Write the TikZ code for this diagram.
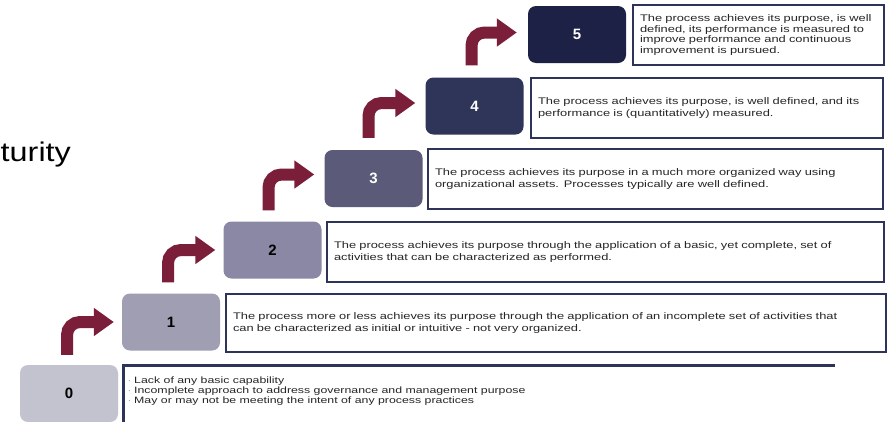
\documentclass[tikz,border=0pt]{standalone}
\usepackage{fontspec}
\setmainfont{Liberation Sans}
\newfontfamily\descfont[FakeStretch=1.34]{Liberation Sans}
\newfontfamily\titlefont[FakeStretch=1.2]{Liberation Sans}
\usetikzlibrary{arrows.meta,calc}

\definecolor{arrowred}{HTML}{7B1E3A}
\definecolor{navyframe}{HTML}{2E3359}
\definecolor{lvzero}{HTML}{C3C3CF}
\definecolor{lvone}{HTML}{A09EB3}
\definecolor{lvtwo}{HTML}{8A88A4}
\definecolor{lvthree}{HTML}{5C5A79}
\definecolor{lvfour}{HTML}{2F3559}
\definecolor{lvfive}{HTML}{1D2146}

\tikzset{
  level/.style={rounded corners=8pt, minimum width=98pt, minimum height=57pt,
    inner sep=0pt, font=\bfseries\fontsize{15}{15}\selectfont},
  darklevel/.style={level, text=white},
  lightlevel/.style={level, text=black},
  descbox/.style={draw=navyframe, line width=2pt, anchor=north west, inner xsep=7pt,
    align=left, text=black!85, font=\descfont\fontsize{9.6}{12}\selectfont},
  stepup/.style={draw=arrowred, line width=12pt, rounded corners=13pt,
    -{Triangle[width=27pt,length=20pt]}},
}

\begin{document}
\begin{tikzpicture}[x=1pt,y=-1pt]
  \useasboundingbox (0,0) rectangle (893,421);
  \fill[white] (0,0) rectangle (893,421);

  % heading word at the left edge
  \node[anchor=west, inner sep=0pt, font=\titlefont\fontsize{27}{27}\selectfont] (title) at (0.5,155) {turity};

  % maturity level blocks
  \node[lightlevel, fill=lvzero] (b0) at (69,393.5) {0};
  \node[lightlevel, fill=lvone] (b1) at (171,322) {1};
  \node[lightlevel, fill=lvtwo] (b2) at (272.5,250) {2};
  \node[darklevel, fill=lvthree] (b3) at (373.5,178.5) {3};
  \node[darklevel, fill=lvfour] (b4) at (474.5,106) {4};
  \node[darklevel, fill=lvfive] (b5) at (577,34.5) {5};

  % descriptions
  \node[descbox, text width=646pt, minimum height=58pt] (d1) at (225,293)
    {The process more or less achieves its purpose through the application of an incomplete set of activities that\\
     can be characterized as initial or intuitive - not very organized.};
  \node[descbox, text width=543pt, minimum height=60pt] (d2) at (326,221)
    {The process achieves its purpose through the application of a basic, yet complete, set of\\
     activities that can be characterized as performed.};
  \node[descbox, text width=441pt, minimum height=60pt] (d3) at (427,148)
    {The process achieves its purpose in a much more organized way using\\
     organizational assets. Processes typically are well defined.};
  \node[descbox, text width=338pt, minimum height=60pt] (d4) at (530,77)
    {The process achieves its purpose, is well defined, and its\\
     performance is (quantitatively) measured.};
  \node[descbox, text width=237pt, minimum height=60pt, font=\descfont\fontsize{9.6}{10.6}\selectfont] (d5) at (632,4)
    {The process achieves its purpose, is well\\
     defined, its performance is measured to\\
     improve performance and continuous\\
     improvement is pursued.};

  % level 0: open frame with bullet list
  \node[anchor=north west, minimum width=712pt, minimum height=70pt, inner sep=0pt] (f0) at (123,365) {};
  \draw[navyframe, line width=3pt] (f0.south west) -- (f0.north west) -- (f0.north east);
  \node[anchor=north west, align=left, inner sep=0pt, text=black!85,
        font=\descfont\fontsize{9.2}{10}\selectfont] (d0) at ($(f0.north west)+(5,12)$)
    {$\cdot$ Lack of any basic capability\\
     $\cdot$ Incomplete approach to address governance and management purpose\\
     $\cdot$ May or may not be meeting the intent of any process practices};

  % step arrows between levels
  \draw[stepup] ($(b0.north)+(-2,-10)$) |- ($(b1.west)+(-8,0)$);
  \draw[stepup] ($(b1.north)+(-3,-11)$) |- ($(b2.west)+(-8,0)$);
  \draw[stepup] ($(b2.north)+(-4,-11)$) |- ($(b3.west)+(-10,-4)$);
  \draw[stepup] ($(b3.north)+(-5,-12)$) |- ($(b4.west)+(-10,-3)$);
  \draw[stepup] ($(b4.north)+(-3,-12)$) |- ($(b5.west)+(-11,-2)$);
\end{tikzpicture}
\end{document}
